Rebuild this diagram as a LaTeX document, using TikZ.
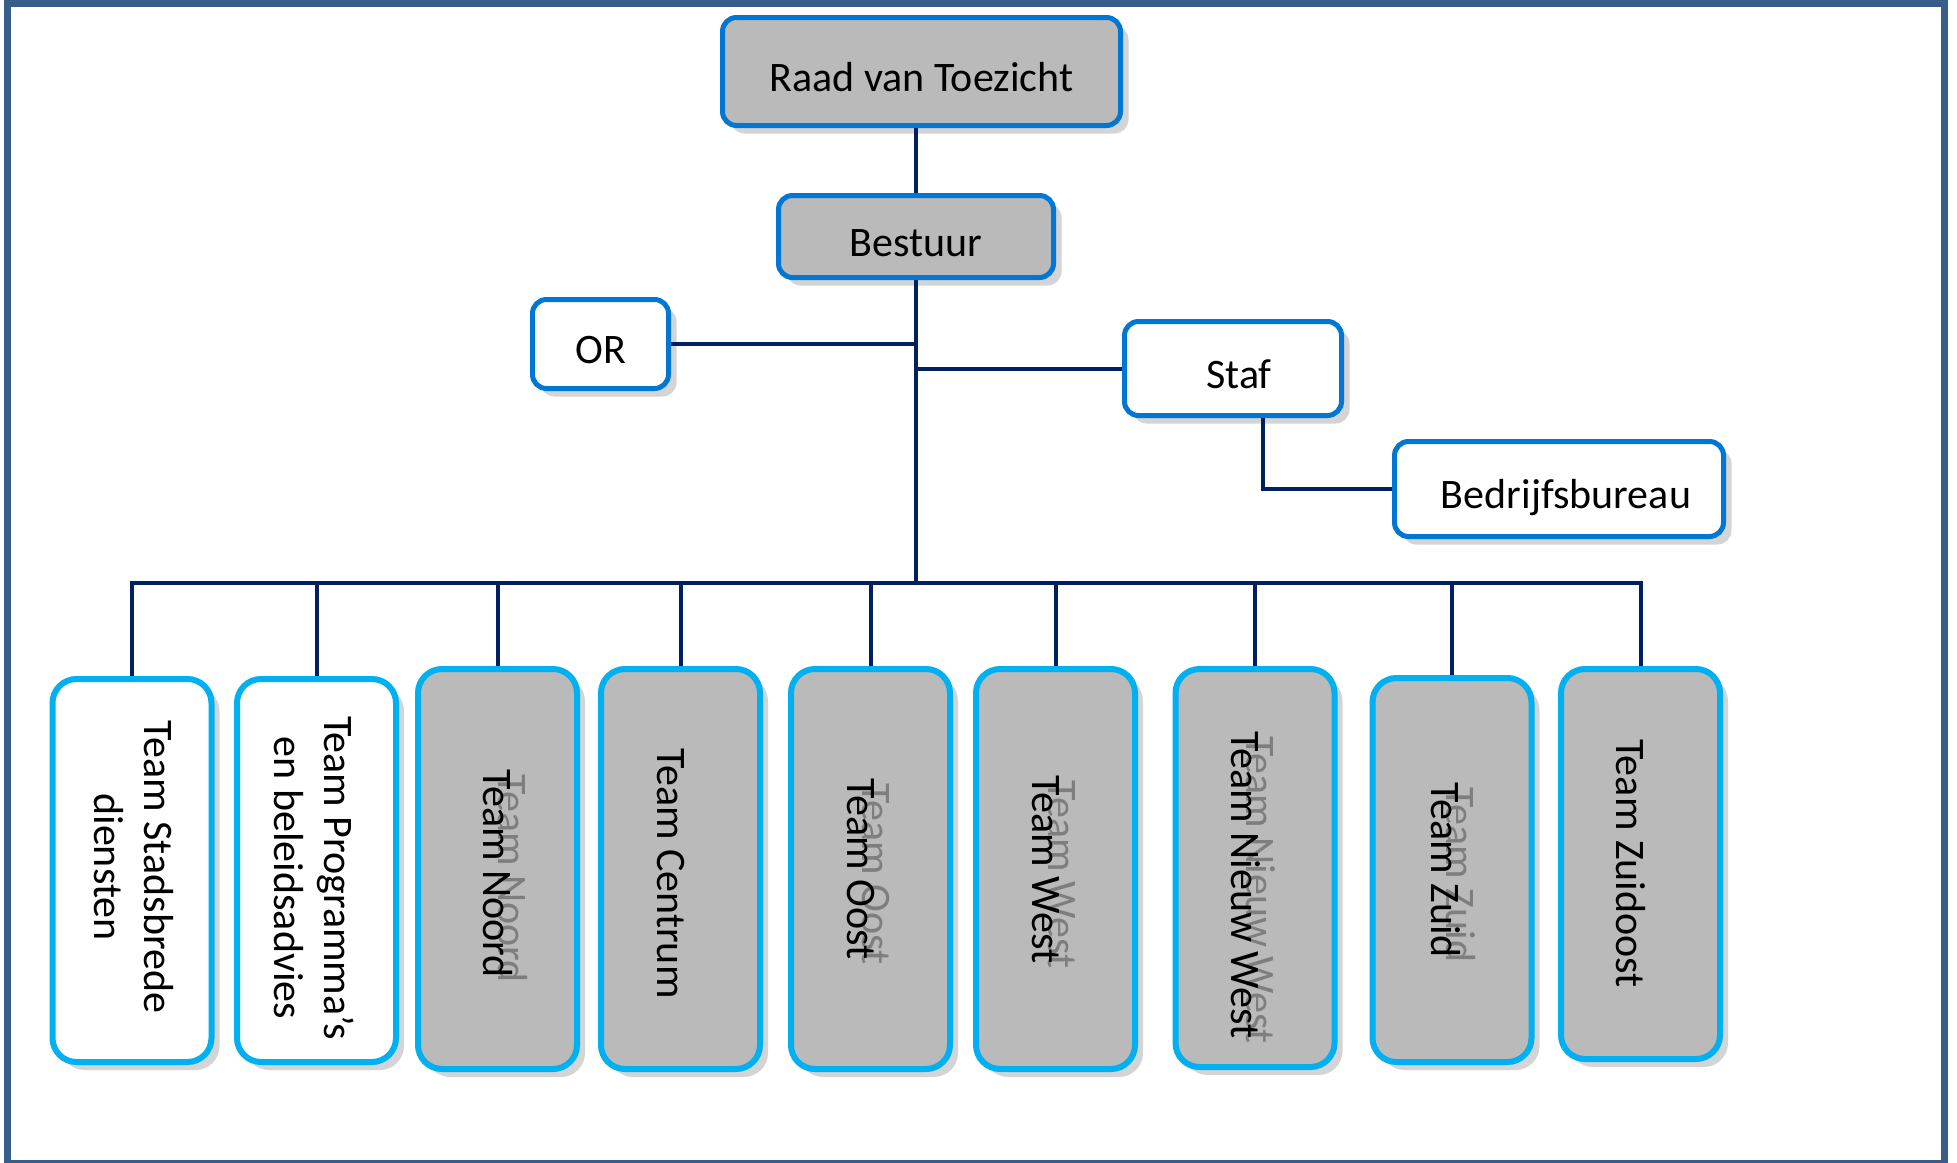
\documentclass[tikz,border=0pt]{standalone}
\usepackage{fontspec}
\setmainfont{Carlito}
\usetikzlibrary{shadows}
\definecolor{frameblue}{HTML}{385D8A}
\definecolor{topblue}{HTML}{0077D4}
\definecolor{cyanb}{HTML}{00B0F0}
\definecolor{navy}{HTML}{002060}
\definecolor{boxgray}{HTML}{BABABA}
\definecolor{ghostgray}{HTML}{7E7E7E}
\definecolor{shadowgray}{HTML}{AAAAAA}
\begin{document}
\begin{tikzpicture}[x=1pt,y=-1pt,
  shade box/.style={drop shadow={shadow xshift=8pt, shadow yshift=-8pt, fill=shadowgray}},
  topbox/.style={shade box, draw=topblue, line width=5pt, rounded corners=14pt,
    font=\fontsize{42}{46}\selectfont, text height=45pt, text depth=6pt, inner sep=0pt},
  teambox/.style={shade box, draw=cyanb, line width=6pt, rounded corners=24pt,
    minimum width=159pt, inner sep=0pt},
  teamtext/.style={rotate=-90, font=\fontsize{42}{50}\selectfont, align=center, inner sep=0pt},
  ghosttext/.style={teamtext, text=ghostgray},
  conn/.style={draw=navy, line width=4pt}
]
\useasboundingbox (0,0) rectangle (1957,1162);
\fill[white] (0,0) rectangle (1957,1162);
\draw[frameblue, line width=7pt] (7.5,3.5) rectangle (1944.5,1163.5);

% top part
\node[topbox, fill=boxgray, minimum width=398pt, minimum height=108pt] (raad) at (921.5,71.5) {Raad van Toezicht};
\node[topbox, fill=boxgray, minimum width=275pt, minimum height=82pt] (bestuur) at (916,236.5) {Bestuur};
\node[topbox, fill=white, minimum width=136pt, minimum height=89pt] (or) at (600.5,344) {OR};
\node[topbox, fill=white, minimum width=217pt, minimum height=94pt] (staf) at (1233,368.5) {\hspace*{12pt}Staf};
\node[topbox, fill=white, minimum width=329pt, minimum height=95pt] (bedrijf) at (1559,489) {\hspace*{14pt}Bedrijfsbureau};

% team boxes
\node[teambox, fill=white, minimum height=383pt] (stad) at (132,870.5) {};
\node[teambox, fill=white, minimum height=383pt] (prog) at (316.5,870.5) {};
\node[teambox, fill=boxgray, minimum height=400pt] (noord) at (497.5,869) {};
\node[teambox, fill=boxgray, minimum height=400pt] (centrum) at (680.5,869) {};
\node[teambox, fill=boxgray, minimum height=400pt] (oost) at (870.5,869) {};
\node[teambox, fill=boxgray, minimum height=400pt] (west) at (1055.5,869) {};
\node[teambox, fill=boxgray, minimum height=398pt] (nieuw) at (1255,868) {};
\node[teambox, fill=boxgray, minimum height=384pt] (zuid) at (1452,870) {};
\node[teambox, fill=boxgray, minimum height=390pt] (zuidoost) at (1640.5,864) {};

% ghost texts
\node[ghosttext] (gnoord) at (512.5,878.5) {Team Noord};
\node[ghosttext] (goost) at (875.5,874) {Team Oost};
\node[ghosttext] (gwest) at (1062,874.5) {Team West};
\node[ghosttext] (gnieuw) at (1261,890) {Team Nieuw West};
\node[ghosttext] (gzuid) at (1461,875) {Team Zuid};

% team texts
\node[teamtext] (tstad) at (134,867) {Team Stadsbrede\\diensten};
\node[teamtext] (tprog) at (314.5,878) {Team Programma’s\\en beleidsadvies};
\node[teamtext] (tnoord) at (497.5,873.5) {Team Noord};
\node[teamtext] (tcentrum) at (671,873.5) {Team Centrum};
\node[teamtext] (toost) at (860.5,869) {Team Oost};
\node[teamtext] (twest) at (1046,869.5) {Team West};
\node[teamtext] (tnieuw) at (1246,885) {Team Nieuw West};
\node[teamtext] (tzuid) at (1446,870) {Team Zuid};
\node[teamtext] (tzuidoost) at (1631,863.5) {Team Zuidoost};

% connectors
\coordinate (bus) at (916,583);
\draw[conn] (bestuur.north |- raad.south) -- (bestuur.north);
\draw[conn] (bestuur.south) -- (bestuur.south |- bus);
\draw[conn] (or.east) -- (or.east -| bestuur.south);
\draw[conn] (staf.west) -- (staf.west -| bestuur.south);
\draw[conn] ([xshift=30pt]staf.south) |- (bedrijf.west);
\draw[conn] (stad.north) -- (stad.north |- bus) -- (zuidoost.north |- bus) -- (zuidoost.north);
\foreach \n in {prog,noord,centrum,oost,west,nieuw,zuid}
  \draw[conn] (\n.north |- bus) -- (\n.north);
\end{tikzpicture}
\end{document}
